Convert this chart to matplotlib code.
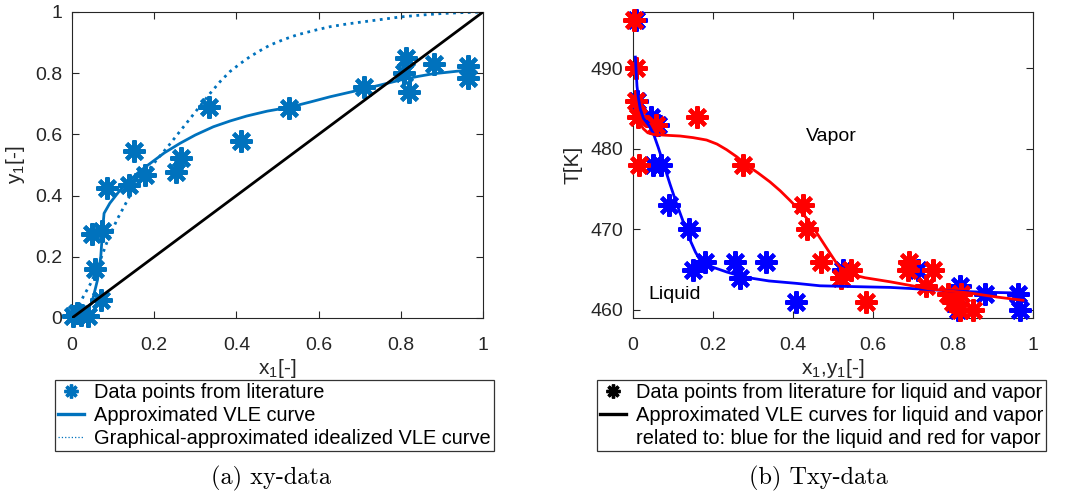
import numpy as np
import matplotlib
matplotlib.use('Agg')
from matplotlib import pyplot as plt
from matplotlib.lines import Line2D

plt.rcParams['font.family'] = ['Liberation Sans', 'DejaVu Sans']
plt.rcParams['mathtext.fontset'] = 'custom'
plt.rcParams['mathtext.rm'] = 'Liberation Sans'
plt.rcParams['mathtext.it'] = 'Liberation Sans'

# --- xy data: literature points ---
x_lit = [0.003, 0.012, 0.022, 0.040, 0.071, 0.055, 0.049, 0.074, 0.086, 0.138,
         0.150, 0.177, 0.254, 0.266, 0.333, 0.410, 0.528, 0.710, 0.809, 0.812,
         0.819, 0.881, 0.963, 0.963]
y_lit = [0.005, 0.015, 0.010, 0.006, 0.060, 0.160, 0.274, 0.283, 0.424, 0.435,
         0.547, 0.468, 0.476, 0.522, 0.689, 0.580, 0.686, 0.754, 0.800, 0.849,
         0.737, 0.829, 0.822, 0.783]

# approximated VLE curve
x_fit = [0.0, 0.03, 0.048, 0.062, 0.070, 0.0747, 0.078, 0.092, 0.117, 0.141,
         0.165, 0.19, 0.225, 0.263, 0.30, 0.344, 0.385, 0.425, 0.475, 0.530,
         0.580, 0.628, 0.670, 0.709, 0.749, 0.797, 0.840, 0.878, 0.920, 0.968]
y_fit = [0.0, 0.025, 0.048, 0.124, 0.200, 0.293, 0.342, 0.375, 0.418, 0.451,
         0.480, 0.505, 0.540, 0.571, 0.598, 0.625, 0.644, 0.660, 0.676, 0.689,
         0.706, 0.723, 0.736, 0.748, 0.761, 0.777, 0.789, 0.798, 0.804, 0.811]

# graphical idealized VLE curve
x_ideal = [0.0, 0.0195, 0.0275, 0.045, 0.06, 0.084, 0.109, 0.141, 0.165, 0.194,
           0.238, 0.262, 0.287, 0.311, 0.336, 0.360, 0.384, 0.410, 0.433, 0.458,
           0.482, 0.515, 0.547, 0.590, 0.628, 0.670, 0.709, 0.749, 0.80, 0.85,
           0.90, 0.95, 1.0]
y_ideal = [0.0, 0.048, 0.070, 0.112, 0.157, 0.244, 0.320, 0.400, 0.445, 0.497,
           0.568, 0.609, 0.651, 0.692, 0.734, 0.772, 0.805, 0.832, 0.854, 0.874,
           0.892, 0.910, 0.925, 0.940, 0.952, 0.961, 0.968, 0.975, 0.984, 0.990,
           0.995, 0.998, 1.0]

# --- Txy data ---
x_liq = [0.008, 0.010, 0.046, 0.0625, 0.050, 0.070, 0.089, 0.139, 0.150, 0.179,
         0.254, 0.267, 0.333, 0.408, 0.525, 0.713, 0.818, 0.8125, 0.879, 0.9625, 0.967]
T_liq = [496, 486, 484, 483, 478, 478, 473, 470, 465, 466,
         466, 464, 466, 461, 465, 465, 463, 460, 462, 462, 460]
y_vap = [0.0025, 0.008, 0.008, 0.0125, 0.015, 0.058, 0.160, 0.275, 0.425, 0.435,
         0.470, 0.520, 0.546, 0.582, 0.690, 0.6875, 0.750, 0.733, 0.7875, 0.800,
         0.820, 0.817, 0.850]
T_vap = [496, 490, 486, 484, 478, 483, 484, 478, 473, 470,
         466, 464, 465, 461, 466, 465, 465, 463, 462, 461,
         462, 460, 460]

x_liq_fit = [0.006, 0.008, 0.010, 0.013, 0.018, 0.026, 0.040, 0.051, 0.063,
             0.076, 0.092, 0.109, 0.126, 0.1425, 0.156, 0.1675, 0.183, 0.200,
             0.235, 0.276, 0.340, 0.409, 0.4675, 0.550, 0.6425, 0.7175, 0.80,
             0.88, 0.9675]
T_liq_fit = [491.4, 489.5, 487.8, 486.5, 485.0, 483.8, 482.9, 481.9, 480.2,
             478.2, 475.7, 473.2, 470.9, 468.7, 467.2, 466.2, 465.7, 465.3,
             464.7, 464.1, 463.6, 463.3, 463.0, 462.9, 462.8, 462.6, 462.35,
             462.2, 462.1]
y_vap_fit = [0.005, 0.009, 0.016, 0.026, 0.037, 0.051, 0.080, 0.1175, 0.150,
             0.184, 0.210, 0.234, 0.260, 0.284, 0.313, 0.3425, 0.368, 0.3925,
             0.414, 0.434, 0.455, 0.476, 0.493, 0.509, 0.522, 0.536, 0.555,
             0.580, 0.6425, 0.7425, 0.8425, 0.910, 0.975]
T_vap_fit = [485.2, 484.4, 483.3, 482.5, 482.0, 481.8, 481.7, 481.6, 481.4,
             481.1, 480.6, 479.9, 479.0, 478.0, 477.0, 475.9, 474.8, 473.6,
             472.5, 471.4, 469.9, 468.3, 467.0, 465.8, 465.1, 464.6, 464.3,
             464.0, 463.5, 462.6, 462.1, 461.6, 461.2]

mblue = '#0072BD'
star = (8, 2, 0)
ms, mew = 16, 3.0

fig = plt.figure(figsize=(10.71, 4.95), dpi=100)
ax1 = fig.add_axes([72 / 1071, 1 - 318 / 495, 411 / 1071, 306 / 495])
ax2 = fig.add_axes([633 / 1071, 1 - 318 / 495, 400 / 1071, 306 / 495])

ax1.plot(x_lit, y_lit, linestyle='none', marker=star, ms=ms, mew=mew, color=mblue,
         clip_on=False, zorder=3)
ax1.plot(x_fit, y_fit, '-', color=mblue, lw=2.0)
ax1.plot(x_ideal, y_ideal, ':', color=mblue, lw=2.0)
ax1.plot([0, 1], [0, 1], '-', color='k', lw=2.0, zorder=4)
ax1.set_xlim(0, 1)
ax1.set_ylim(0, 1)
ax1.set_xticks(np.arange(0, 1.01, 0.2))
ax1.set_yticks(np.arange(0, 1.01, 0.2))
ax1.set_xticklabels(['0', '0.2', '0.4', '0.6', '0.8', '1'])
ax1.set_yticklabels(['0', '0.2', '0.4', '0.6', '0.8', '1'])
ax1.set_xlabel('x$_1$[-]', labelpad=2)
ax1.set_ylabel('y$_1$[-]', labelpad=6)

ax2.plot(x_liq, T_liq, linestyle='none', marker=star, ms=ms, mew=mew, color='b',
         clip_on=False, zorder=3)
ax2.plot(y_vap, T_vap, linestyle='none', marker=star, ms=ms, mew=mew, color='r',
         clip_on=False, zorder=3)
ax2.plot(x_liq_fit, T_liq_fit, '-', color='b', lw=2.0, zorder=4)
ax2.plot(y_vap_fit, T_vap_fit, '-', color='r', lw=2.0, zorder=4)
ax2.set_xlim(0, 1)
ax2.set_ylim(459, 497)
ax2.set_xticks(np.arange(0, 1.01, 0.2))
ax2.set_xticklabels(['0', '0.2', '0.4', '0.6', '0.8', '1'])
ax2.set_yticks([460, 470, 480, 490])
ax2.set_xlabel('x$_1$,y$_1$[-]', labelpad=2)
ax2.set_ylabel('T[K]', labelpad=6)
ax2.text(0.496, 481.5, 'Vapor', fontsize=14, ha='center', va='center')
ax2.text(0.104, 461.9, 'Liquid', fontsize=14, ha='center', va='center')

for ax in (ax1, ax2):
    ax.tick_params(direction='in', length=5, width=0.8, top=True, right=True,
                   labelsize=14, colors='#262626')
    ax.tick_params(axis='x', pad=14)
    ax.tick_params(axis='y', pad=7)
    for sp in ax.spines.values():
        sp.set_color('#262626')
        sp.set_linewidth(0.8)
    ax.xaxis.label.set_size(15)
    ax.yaxis.label.set_size(15)
    ax.xaxis.label.set_color('#262626')
    ax.yaxis.label.set_color('#262626')

leg_kw = dict(loc='upper left', fontsize=14.4, frameon=True, fancybox=False,
              edgecolor='k', handlelength=1.3, handletextpad=0.5,
              labelspacing=0.2, borderpad=0.15, borderaxespad=0)

h1 = [Line2D([], [], linestyle='none', marker=star, ms=10, mew=2.4, color=mblue),
      Line2D([], [], linestyle='-', lw=2.4, color=mblue),
      Line2D([], [], linestyle=':', lw=0.9, color=mblue)]
l1 = ['Data points from literature', 'Approximated VLE curve',
      'Graphical-approximated idealized VLE curve']
leg1 = fig.legend(h1, l1, bbox_to_anchor=(55 / 1071, 1 - 380 / 495), **leg_kw)
leg1.get_frame().set_linewidth(0.9)

# the second curve label runs over two rows; the continuation row has no handle
h2 = [Line2D([], [], linestyle='none', marker=star, ms=10, mew=2.4, color='k'),
      Line2D([], [], linestyle='-', lw=2.4, color='k'),
      Line2D([], [], linestyle='none')]
l2 = ['Data points from literature for liquid and vapor',
      'Approximated VLE curves for liquid and vapor',
      'related to: blue for the liquid and red for vapor']
leg2 = fig.legend(h2, l2, bbox_to_anchor=(597 / 1071, 1 - 380 / 495), **leg_kw)
leg2.get_frame().set_linewidth(0.9)

fig.text(271 / 1071, 1 - 478 / 495, '(a) xy-data', family='cmr10', fontsize=17.5,
         ha='center', va='center')
fig.text(818 / 1071, 1 - 478 / 495, '(b) Txy-data', family='cmr10', fontsize=17.5,
         ha='center', va='center')

fig.savefig('out.png', dpi=100)
